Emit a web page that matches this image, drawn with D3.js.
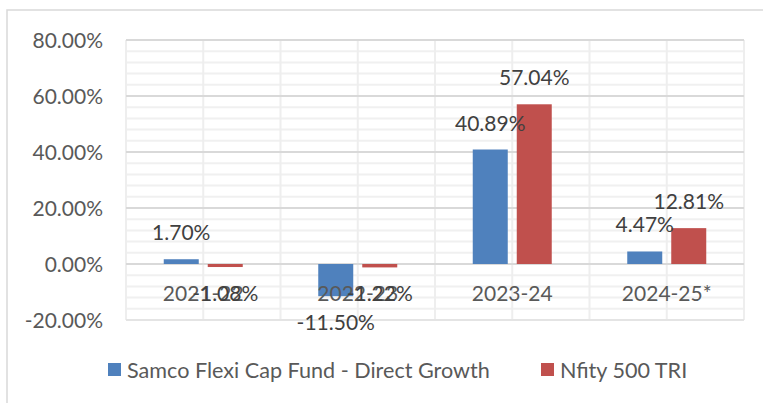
<!DOCTYPE html>
<html lang="en">
<head>
<meta charset="UTF-8">
<title>Samco Flexi Cap Fund vs Nifty 500 TRI</title>
<script src="https://cdnjs.cloudflare.com/ajax/libs/d3/7.8.5/d3.min.js"></script>
<style>
    body { margin: 0; background: #fff; }
    svg { display: block; }
    text { font-family: Lato, "Liberation Sans", sans-serif; }
</style>
</head>
<body>
<div id="chart"></div>
<script>
    // Data (percent returns)
    var categories = ["2021-22", "2022-23", "2023-24", "2024-25*"];
    var seriesNames = ["Samco Flexi Cap Fund - Direct Growth", "Nfity 500 TRI"];
    var samcoValues = [1.70, -11.50, 40.89, 4.47];
    var niftyValues = [-1.08, -1.22, 57.04, 12.81];
    var yTicks = [-20, 0, 20, 40, 60, 80];
    var colors = ["#4f81bd", "#c0504d"];

    var w = 763, h = 403;
    var plot = { left: 126, right: 744, top: 40, bottom: 320 };

    var svg = d3.select("#chart").append("svg")
        .attr("width", w)
        .attr("height", h);

    // outer chart frame (cropped on the right and bottom)
    svg.append("rect")
        .attr("x", 7).attr("y", 10)
        .attr("width", w + 20).attr("height", h + 20)
        .attr("fill", "#fff")
        .attr("stroke", "#d9d9d9")
        .attr("stroke-width", 1.5);

    var x = d3.scaleBand()
        .domain(categories)
        .range([plot.left, plot.right]);

    var groupWidth = 79;
    var x1 = d3.scaleBand()
        .domain([0, 1])
        .range([0, groupWidth])
        .paddingInner(0.2045);
    var groupOffset = (x.bandwidth() - groupWidth) / 2;

    var y = d3.scaleLinear()
        .domain([yTicks[0], yTicks[yTicks.length - 1]])
        .range([plot.bottom, plot.top]);

    var fmt = function(v) { return v.toFixed(2) + "%"; };

    // minor horizontal gridlines
    var minor = d3.range(-20, 80.1, 4).filter(function(v) { return v % 20 !== 0; });
    svg.append("g").selectAll("line")
        .data(minor)
        .enter().append("line")
        .attr("x1", plot.left).attr("x2", plot.right)
        .attr("y1", function(d) { return y(d); })
        .attr("y2", function(d) { return y(d); })
        .attr("stroke", "#f0f0f0")
        .attr("stroke-width", 2);

    // vertical gridlines: category edges and centres
    var vlines = [];
    categories.forEach(function(c) {
        vlines.push(x(c));
        vlines.push(x(c) + x.bandwidth() / 2);
    });
    vlines.push(plot.right);
    svg.append("g").selectAll("line")
        .data(vlines)
        .enter().append("line")
        .attr("x1", function(d) { return d; })
        .attr("x2", function(d) { return d; })
        .attr("y1", plot.top).attr("y2", plot.bottom)
        .attr("stroke", "#eeeeee")
        .attr("stroke-width", 2);

    // major horizontal gridlines
    svg.append("g").selectAll("line")
        .data(yTicks)
        .enter().append("line")
        .attr("x1", plot.left).attr("x2", plot.right)
        .attr("y1", function(d) { return y(d); })
        .attr("y2", function(d) { return y(d); })
        .attr("stroke", function(d) { return d === yTicks[0] ? "#e4e4e4" : "#d9d9d9"; })
        .attr("stroke-width", 2);

    // y axis labels
    svg.append("g").selectAll("text")
        .data(yTicks)
        .enter().append("text")
        .attr("x", 103)
        .attr("y", function(d) { return y(d); })
        .attr("dy", "0.36em")
        .attr("text-anchor", "end")
        .attr("font-size", "21px")
        .attr("fill", "#595959")
        .text(fmt);

    // bars
    var series = [samcoValues, niftyValues];
    series.forEach(function(vals, s) {
        var g = svg.append("g");
        g.selectAll("rect")
            .data(vals)
            .enter().append("rect")
            .attr("x", function(d, i) { return x(categories[i]) + groupOffset + x1(s); })
            .attr("width", x1.bandwidth())
            .attr("y", function(d) { return y(Math.max(0, d)); })
            .attr("height", function(d) { return Math.abs(y(d) - y(0)); })
            .attr("fill", colors[s]);
    });

    // category labels
    svg.append("g").selectAll("text")
        .data(categories)
        .enter().append("text")
        .attr("x", function(d) { return x(d) + x.bandwidth() / 2; })
        .attr("y", 301)
        .attr("text-anchor", "middle")
        .attr("font-size", "21px")
        .attr("fill", "#595959")
        .text(function(d) { return d; });

    // data labels
    series.forEach(function(vals, s) {
        svg.append("g").selectAll("text")
            .data(vals)
            .enter().append("text")
            .attr("x", function(d, i) { return x(categories[i]) + groupOffset + x1(s) + x1.bandwidth() / 2; })
            .attr("y", function(d) { return d >= 0 ? y(d) - 19 : y(d) + 34; })
            .attr("text-anchor", "middle")
            .attr("font-size", "21px")
            .attr("fill", "#404040")
            .text(fmt);
    });

    // legend
    var legendX = [108, 541];
    var legend = svg.append("g");
    seriesNames.forEach(function(name, s) {
        legend.append("rect")
            .attr("x", legendX[s]).attr("y", 363)
            .attr("width", 13).attr("height", 13)
            .attr("fill", colors[s]);
        legend.append("text")
            .attr("x", legendX[s] + 19).attr("y", 370)
            .attr("dy", "0.36em")
            .attr("font-size", "21.6px")
            .attr("fill", "#595959")
            .text(name);
    });
</script>
</body>
</html>
